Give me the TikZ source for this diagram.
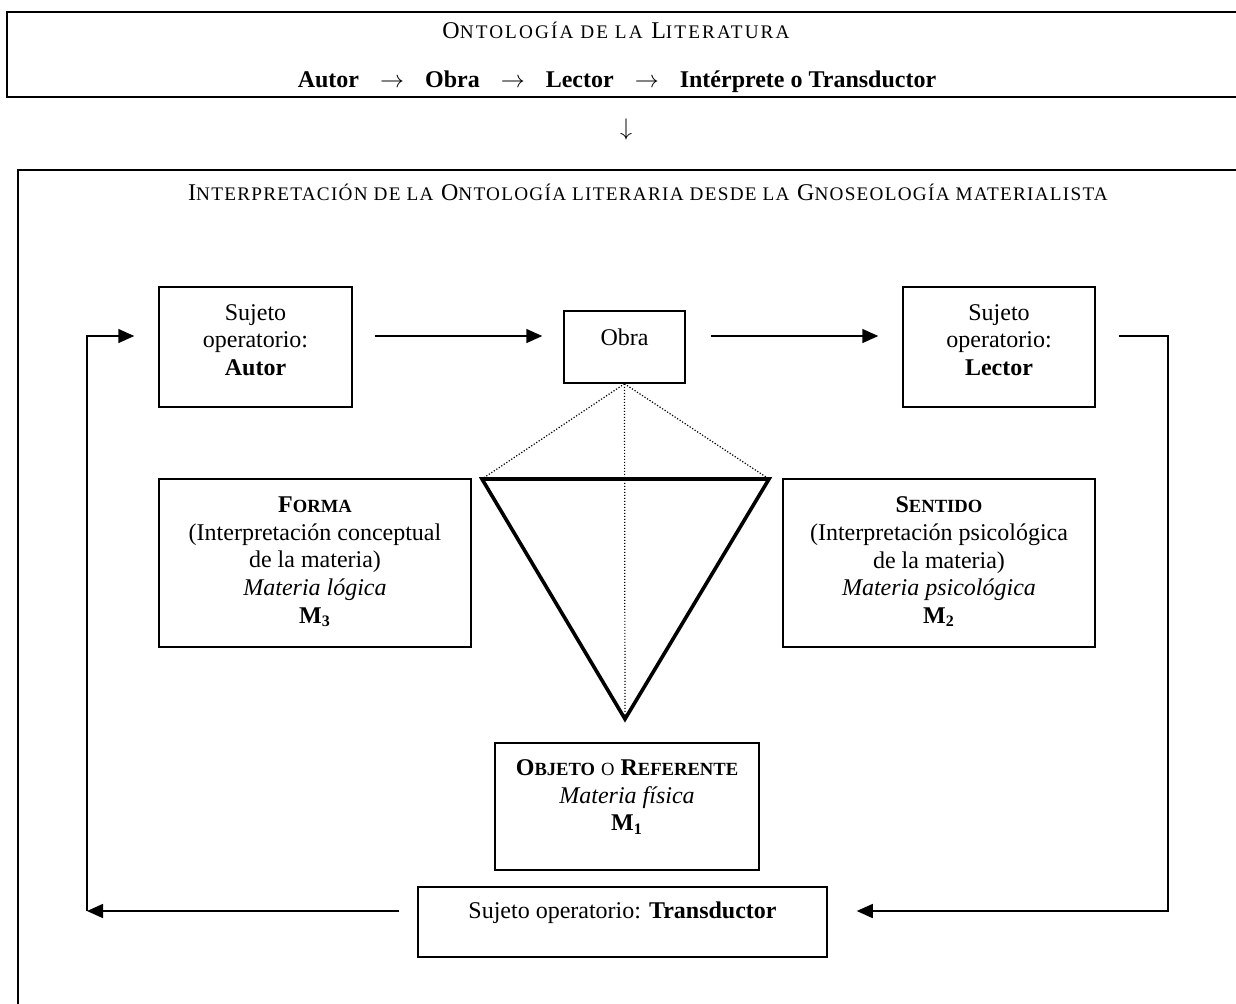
\documentclass[tikz,border=0pt]{standalone}
\usepackage{fontspec}
\setmainfont{Liberation Serif}
\usetikzlibrary{arrows.meta}
\newcommand\smc[1]{{\fontsize{9.3pt}{13.8pt}\selectfont #1}}
\newcommand\tsmc[1]{{\fontsize{9.6pt}{13.8pt}\selectfont #1}}
\newcommand\arrw{\hspace{10.5pt}$\rightarrow$\hspace{10.5pt}}
\begin{document}
\begin{tikzpicture}[x=0.5pt,y=-0.5pt,
  box/.style={draw,line width=0.75pt,inner sep=0pt},
  txt/.style={align=center,font=\fontsize{12pt}{13.8pt}\selectfont,inner sep=0pt},
  conn/.style={line width=0.75pt},
  arr/.style={conn,-{Triangle[length=8pt,width=7pt]}},
  frame/.style={line width=1.2pt},
  tri/.style={line width=1.8pt,line join=miter},
  dots/.style={line width=0.6pt,dash pattern=on 0.6pt off 0.9pt}
  ]
\useasboundingbox (0,0) rectangle (1236,1003);

% outer frames
\draw[frame] (1260,12) -- (7,12) -- (7,97) -- (1260,97);
\draw[frame] (1260,170) -- (18,170) -- (18,1020);

% titles
\node[txt] (t1) at (616,30) {\addfontfeatures{LetterSpace=11}O\tsmc{NTOLOGÍA DE LA} L\tsmc{ITERATURA}};
\node[txt,font=\fontsize{12pt}{13.8pt}\selectfont\bfseries] (t2) at (617,82)
  {Autor\arrw Obra\arrw Lector\arrw Intérprete o Transductor};
\node[txt] (down) at (626,129) {$\downarrow$};
\node[txt] (t3) at (648,192)
  {\addfontfeatures{LetterSpace=6.6}I\tsmc{NTERPRETACIÓN DE LA} O\tsmc{NTOLOGÍA LITERARIA DESDE LA} G\tsmc{NOSEOLOGÍA MATERIALISTA}};

% boxes
\node[box,minimum width=96.5pt,minimum height=60pt] (autor) at (255.5,347) {};
\node[box,minimum width=60.5pt,minimum height=36pt] (obra) at (624.5,347) {};
\node[box,minimum width=96pt,minimum height=60pt] (lector) at (999,347) {};
\node[box,minimum width=156pt,minimum height=84pt] (forma) at (315,563) {};
\node[box,minimum width=156pt,minimum height=84pt] (sentido) at (939,563) {};
\node[box,minimum width=132pt,minimum height=63.5pt] (objeto) at (627,806.5) {};
\node[box,minimum width=204.5pt,minimum height=35pt] (trans) at (622.5,922) {};

% box texts
\node[txt] (autorT) at (255.5,340) {Sujeto\\operatorio:\\\textbf{Autor}};
\node[txt] (obraT) at (624.5,337) {Obra};
\node[txt] (lectorT) at (999,340) {Sujeto\\operatorio:\\\textbf{Lector}};
\node[txt] (formaT) at (315,562) {\textbf{F\smc{ORMA}}\\(Interpretación conceptual\\de la materia)\\\textit{Materia lógica}\\\textbf{M\textsubscript{3}}};
\node[txt] (sentidoT) at (939,562) {\textbf{S\smc{ENTIDO}}\\(Interpretación psicológica\\de la materia)\\\textit{Materia psicológica}\\\textbf{M\textsubscript{2}}};
\node[txt] (objetoT) at (627,797) {\textbf{O\smc{BJETO}} \smc{O} \textbf{R\smc{EFERENTE}}\\\textit{Materia física}\\\textbf{M\textsubscript{1}}};
\node[txt] (transT) at (622.5,913) {Sujeto operatorio: \textbf{Transductor}};

% triangle
\coordinate (tl) at (482,479);
\coordinate (tr) at (769,479);
\coordinate (tb) at (625,719);
\draw[tri] (tl) -- (tr) -- (tb) -- cycle;
\draw[dots] (obra.south) -- (tl);
\draw[dots] (obra.south) -- (tr);
\draw[dots] (obra.south) -- (tb);

% connectors
\draw[arr] ([xshift=11pt,yshift=5.5pt]autor.east) -- ([xshift=-10.5pt,yshift=5.5pt]obra.west);
\draw[arr] ([xshift=12.5pt,yshift=5.5pt]obra.east) -- ([xshift=-12pt,yshift=5.5pt]lector.west);

\coordinate (rt) at (1168,336);
\coordinate (rb) at (1168,911);
\draw[arr] ([xshift=11.5pt,yshift=5.5pt]lector.east) -- (rt) -- (rb) -- ([xshift=14.5pt,yshift=5.5pt]trans.east);

\coordinate (lb) at (87,911);
\coordinate (lt) at (87,336);
\draw[arr] ([xshift=-9pt,yshift=5.5pt]trans.west) -- (lb);
\draw[arr] (lb) -- (lt) -- ([xshift=-12pt,yshift=5.5pt]autor.west);
\end{tikzpicture}
\end{document}
